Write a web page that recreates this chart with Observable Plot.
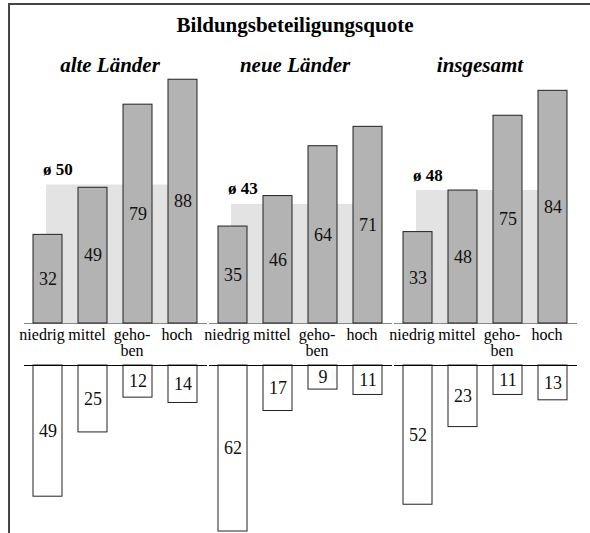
<!DOCTYPE html>
<html>
<head>
<meta charset="utf-8">
<script src="https://cdn.jsdelivr.net/npm/d3@7"></script>
<script src="https://cdn.jsdelivr.net/npm/@observablehq/plot@0.6"></script>
<style>
  html, body { margin: 0; padding: 0; background: white; }
  #wrap { position: relative; width: 590px; height: 533px; overflow: hidden; font-family: "Liberation Serif", "Times New Roman", serif; }
  #frame { position: absolute; left: 8px; top: 3px; width: 600px; height: 600px; border-top: 2px solid #444; border-left: 2px solid #444; pointer-events: none; }
  #title { position: absolute; left: 0; top: 15px; width: 590px; text-align: center; font-size: 21px; line-height: 21px; font-weight: bold; color: #000; }
  #wrap svg { display: block; }
  #wrap svg text { font-family: "Liberation Serif", "Times New Roman", serif; }
</style>
</head>
<body>
<div id="wrap">
  <div id="title">Bildungsbeteiligungsquote</div>
  <div id="charts"></div>
  <div id="frame"></div>
</div>
<script>
const groups = ["alte Länder", "neue Länder", "insgesamt"];
const levels = ["niedrig", "mittel", "gehoben", "hoch"];
const levelLabels = ["niedrig", "mittel", "geho-\nben", "hoch"];
const quoteAlte = [32, 49, 79, 88];
const quoteNeue = [35, 46, 64, 71];
const quoteGesamt = [33, 48, 75, 84];
const averages = [50, 43, 48];
const lowerAlte = [49, 25, 12, 14];
const lowerNeue = [62, 17, 9, 11];
const lowerGesamt = [52, 23, 11, 13];

const serifFont = "Liberation Serif";
const quoteSeries = [quoteAlte, quoteNeue, quoteGesamt];
const lowerSeries = [lowerAlte, lowerNeue, lowerGesamt];
const upperRows = groups.flatMap((g, gi) => levels.map((l, li) => ({group: g, level: l, value: quoteSeries[gi][li]})));
const lowerRows = groups.flatMap((g, gi) => levels.map((l, li) => ({group: g, level: l, value: lowerSeries[gi][li]})));
const avgData = groups.map((g, gi) => ({group: g, avg: averages[gi]}));
const tickData = levels.map((l, i) => ({level: l, label: levelLabels[i]}));

const common = {
  width: 590,
  marginLeft: 23,
  marginRight: 13,
  fx: {domain: groups, paddingInner: 0.012, paddingOuter: 0, axis: null},
  x: {domain: levels, paddingInner: 0.35, paddingOuter: 0.175, axis: null},
  style: "background: transparent; color: #000;"
};

const upperChart = Plot.plot({
  ...common,
  height: 362,
  marginTop: 46,
  marginBottom: 39,
  y: {domain: [0, 100], axis: null},
  marks: [
    Plot.rect(avgData, {fx: "group", x1: () => levels[0], x2: () => levels[3], y1: 0, y2: "avg", fill: "#e3e3e3", insetLeft: 13, insetRight: 15}),
    Plot.ruleY([0], {stroke: "#888", strokeWidth: 1}),
    Plot.barY(upperRows, {fx: "group", x: "level", y: "value", fill: "#b3b3b3", stroke: "#222", strokeWidth: 1}),
    Plot.text(upperRows, {fx: "group", x: "level", y: d => d.value / 2, text: d => String(d.value), fontSize: 18, fontFamily: serifFont, fill: "#111"}),
    Plot.text(avgData, {fx: "group", x: () => levels[0], y: "avg", text: d => "ø " + d.avg, textAnchor: "start", lineAnchor: "bottom", dx: -5, dy: -10, fontSize: 17, fontFamily: serifFont, fontWeight: "bold", fill: "#000"}),
    Plot.text(groups, {fx: d => d, frameAnchor: "top", text: d => d, lineAnchor: "bottom", dx: -6, dy: 25, fontSize: 21, fontFamily: serifFont, fontWeight: "bold", fontStyle: "italic", fill: "#000"}),
    Plot.text(tickData, {x: "level", text: "label", frameAnchor: "bottom", lineAnchor: "top", dx: -6, dy: 5, fontSize: 16, fontFamily: serifFont, lineHeight: 1, fill: "#000"})
  ]
});

const lowerChart = Plot.plot({
  ...common,
  height: 171,
  marginTop: 3,
  marginBottom: 2,
  y: {domain: [0, 62], reverse: true, axis: null},
  marks: [
    Plot.barY(lowerRows, {fx: "group", x: "level", y: "value", fill: "white", stroke: "#222", strokeWidth: 1}),
    Plot.ruleY([0], {stroke: "#000", strokeWidth: 1}),
    Plot.text(lowerRows, {fx: "group", x: "level", y: d => d.value / 2, text: d => String(d.value), fontSize: 18, fontFamily: serifFont, fill: "#111"})
  ]
});

const chartsBox = document.getElementById("charts");
chartsBox.appendChild(upperChart);
chartsBox.appendChild(lowerChart);
</script>
</body>
</html>
